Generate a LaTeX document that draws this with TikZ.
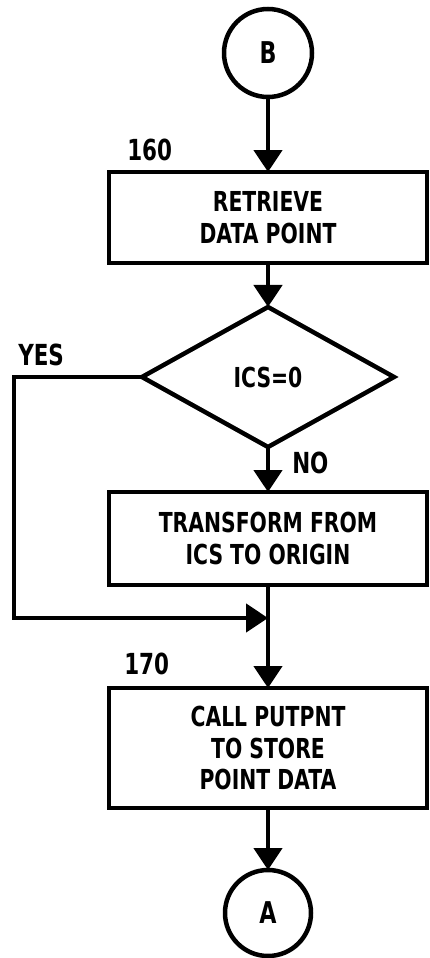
\documentclass[tikz,border=0pt]{standalone}
\usepackage{fontspec}
\setmainfont{DejaVu Sans}[FakeStretch=0.74]
\usetikzlibrary{arrows.meta,positioning,shapes.geometric}

\begin{document}
\begin{tikzpicture}[x=1pt, y=-1pt,
  line width=4.5pt, font=\bfseries\fontsize{27.5}{31.5}\selectfont,
  box/.style={draw, minimum width=318pt, align=center, inner sep=2pt, outer sep=0pt},
  conn/.style={draw, circle, minimum size=88pt, inner sep=0pt, outer sep=0pt,
               font=\bfseries\fontsize{30}{32}\selectfont},
  dec/.style={draw, diamond, minimum width=252pt, minimum height=140pt,
              inner sep=0pt, outer sep=0pt},
  lbl/.style={inner sep=0pt, font=\bfseries\fontsize{29}{31}\selectfont},
  >={Triangle[length=22pt, width=28pt]}, node distance=45pt]
\useasboundingbox (0,0) rectangle (429,958);
\node[conn] (B) at (268,53) {B};
\node[box, minimum height=91pt, below=75pt of B] (retr) {RETRIEVE\\DATA POINT};
\node[dec, below=44pt of retr] (ics) {ICS=0};
\node[box, minimum height=93pt, below=45pt of ics] (trans) {TRANSFORM FROM\\ICS TO ORIGIN};
\node[box, minimum height=120pt, below=103pt of trans] (call) {CALL PUTPNT\\TO STORE\\POINT DATA};
\node[conn, minimum size=86pt, below=62pt of call] (A) {A};
\coordinate[below=33pt of trans] (mrg);
\coordinate[left=128pt of ics.west] (lft);
% labels
\node[lbl, above right=9pt and 2pt of lft] (yes) {YES};
\node[lbl, below right=3pt and 22pt of ics.south] (no) {NO};
\node[lbl, above right=9pt and 16pt of retr.north west] (n160) {160};
\node[lbl, above right=11pt and 13pt of call.north west] (n170) {170};
% flow
\draw[->] (B) -- (retr);
\draw[->] (retr) -- (ics);
\draw[->] (ics) -- (trans);
\draw[->] (trans) -- (call);
\draw[->] (call) -- (A);
\draw[->] (ics.west) -- (lft) |- (mrg);
\end{tikzpicture}
\end{document}
